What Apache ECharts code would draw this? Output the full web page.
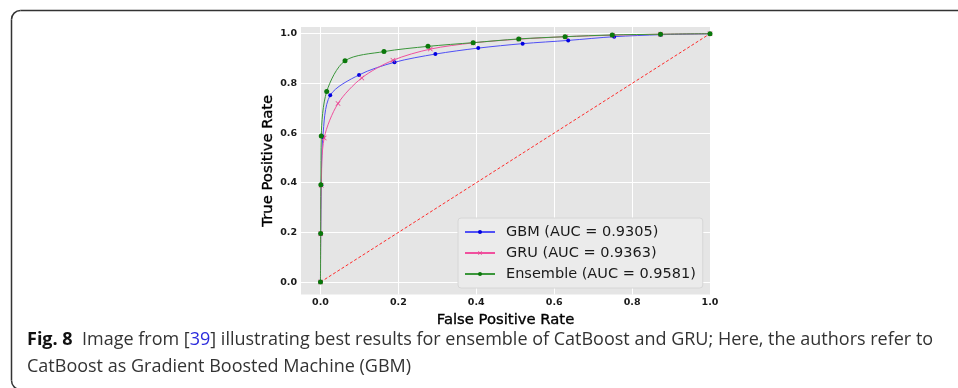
<!DOCTYPE html>
<html><head><meta charset="utf-8">
<script src="https://cdn.jsdelivr.net/npm/echarts@6/dist/echarts.min.js"></script>
<style>html,body{margin:0;padding:0;background:#fff;overflow:hidden}#c{width:958px;height:388px}</style>
</head><body><div id="c"></div>
<script>
const xTicks = [0, 0.2, 0.4, 0.6, 0.8, 1.0];
const yTicks = [0, 0.2, 0.4, 0.6, 0.8, 1.0];
const seriesNames = ['GBM (AUC = 0.9305)', 'GRU (AUC = 0.9363)', 'Ensemble (AUC = 0.9581)'];
const xLabel = 'False Positive Rate';
const yLabel = 'True Positive Rate';

const gbmFpr = [0, 0.0005, 0.002, 0.006, 0.025, 0.099, 0.19, 0.295, 0.405, 0.519, 0.636, 0.754, 0.873, 1.0];
const gbmTpr = [0, 0.195, 0.39, 0.584, 0.752, 0.834, 0.885, 0.918, 0.942, 0.96, 0.973, 0.988, 0.996, 1.0];
const gruFpr = [0, 0.0005, 0.002, 0.0095, 0.045, 0.106, 0.186, 0.282, 0.392, 0.51, 0.63, 0.75, 0.873, 1.0];
const gruTpr = [0, 0.195, 0.39, 0.58, 0.719, 0.822, 0.893, 0.938, 0.963, 0.978, 0.988, 0.994, 0.998, 1.0];
const ensFpr = [0, 0.0005, 0.001, 0.002, 0.016, 0.063, 0.163, 0.276, 0.392, 0.509, 0.628, 0.749, 0.873, 1.0];
const ensTpr = [0, 0.196, 0.392, 0.588, 0.767, 0.891, 0.928, 0.949, 0.964, 0.979, 0.988, 0.995, 0.998, 1.0];
const diagFpr = [0, 1];
const diagTpr = [0, 1];

const captionBold = 'Fig. 8';
const captionLine1a = 'Image from [';
const captionRef = '39';
const captionLine1b = '] illustrating best results for ensemble of CatBoost and GRU; Here, the authors refer to';
const captionLine2 = 'CatBoost as Gradient Boosted Machine (GBM)';

function zip(a, b) { return a.map((v, i) => [v, b[i]]); }

const chart = echarts.init(document.getElementById('c'), null, { renderer: 'canvas' });
const XPATH = 'path://M0,1L1,0L5,4L9,0L10,1L6,5L10,9L9,10L5,6L1,10L0,9L4,5Z';
const tickFont = { fontFamily: 'DejaVu Sans', fontSize: 9.5, fontWeight: 'bold', color: '#1a1a1a' };
const titleFont = { fontFamily: 'DejaVu Sans', fontSize: 14.8, color: '#000', textBorderColor: '#000', textBorderWidth: 0.35 };
const capFont = 'Open Sans';
const capSize = 18;
const frameStyle = { fill: null, stroke: '#333', lineWidth: 1.5 };

const option = {
  animation: false,
  grid: { left: 301, top: 27, width: 409, height: 267.5, show: true, backgroundColor: '#e5e5e5', borderWidth: 0 },
  xAxis: {
    type: 'value', min: -0.05, max: 1.0,
    name: xLabel, nameLocation: 'middle', nameGap: 12, nameTextStyle: titleFont,
    axisLine: { show: false },
    axisTick: { show: false, customValues: xTicks },
    axisLabel: Object.assign({ customValues: xTicks, formatter: v => v.toFixed(1), margin: 3 }, tickFont),
    splitLine: { show: true, lineStyle: { color: '#ffffff', width: 1 } }
  },
  yAxis: {
    type: 'value', min: -0.05, max: 1.027,
    name: yLabel, nameLocation: 'middle', nameGap: 23, nameTextStyle: titleFont,
    axisLine: { show: false },
    axisTick: { show: false, customValues: yTicks },
    axisLabel: Object.assign({ customValues: yTicks, formatter: v => v.toFixed(1), margin: 4 }, tickFont),
    splitLine: { show: true, lineStyle: { color: '#ffffff', width: 1 } }
  },
  legend: {
    data: seriesNames, orient: 'vertical', left: 458, top: 218,
    itemWidth: 30, itemHeight: 5, itemGap: 5,
    padding: [6, 7, 6, 6],
    backgroundColor: '#ebebeb', borderColor: '#d6d6d6', borderWidth: 1, borderRadius: 3,
    textStyle: { fontFamily: 'DejaVu Sans', fontSize: 14.5, color: '#1a1a1a', lineHeight: 16, padding: [0, 0, 0, 6] }
  },
  series: [
    {
      type: 'line', data: zip(diagFpr, diagTpr), symbol: 'none', silent: true, z: 2,
      lineStyle: { color: '#ff2a2a', width: 1, type: [3, 2] }
    },
    {
      type: 'line', name: seriesNames[0], data: zip(gbmFpr, gbmTpr),
      smooth: 0.3, symbol: 'circle', symbolSize: 4, showAllSymbol: true, z: 3,
      lineStyle: { color: '#5050f5', width: 1 }, itemStyle: { color: '#0000e0' }
    },
    {
      type: 'line', name: seriesNames[1], data: zip(gruFpr, gruTpr),
      smooth: 0.3, symbol: XPATH, symbolSize: 5, showAllSymbol: true, z: 4,
      lineStyle: { color: '#f0509e', width: 1 }, itemStyle: { color: '#e8408f' }
    },
    {
      type: 'line', name: seriesNames[2], data: zip(ensFpr, ensTpr),
      smooth: 0.3, symbol: 'circle', symbolSize: 5, showAllSymbol: true, z: 5,
      lineStyle: { color: '#3a963a', width: 1 }, itemStyle: { color: '#0a780a' }
    }
  ],
  graphic: [
    { type: 'polyline', silent: true, shape: { points: [[960, 10.5], [20.5, 10.5]] }, style: frameStyle },
    { type: 'polyline', silent: true, shape: { points: [[11.5, 19.5], [11.5, 380.5]] }, style: frameStyle },
    { type: 'arc', silent: true, shape: { cx: 20.5, cy: 19.5, r: 9, startAngle: Math.PI, endAngle: Math.PI * 1.5 }, style: frameStyle },
    { type: 'arc', silent: true, shape: { cx: 20.5, cy: 380.5, r: 9, startAngle: Math.PI * 0.5, endAngle: Math.PI }, style: frameStyle },
    {
      type: 'text', left: 27, top: 326.5, silent: true,
      style: {
        text: '{b|' + captionBold + '}  ' + '{n|' + captionLine1a + '}{l|' + captionRef + '}{n|' + captionLine1b + '}\n{n|' + captionLine2 + '}',
        fill: '#333', fontFamily: capFont, fontSize: capSize, lineHeight: 27,
        rich: {
          b: { fontFamily: capFont, fontSize: capSize, fontWeight: 'bold', fill: '#111', lineHeight: 27 },
          n: { fontFamily: capFont, fontSize: capSize, fill: '#333', lineHeight: 27 },
          l: { fontFamily: capFont, fontSize: capSize, fill: '#2b2bdc', lineHeight: 27 }
        }
      }
    }
  ]
};
chart.setOption(option);
</script>
</body></html>
